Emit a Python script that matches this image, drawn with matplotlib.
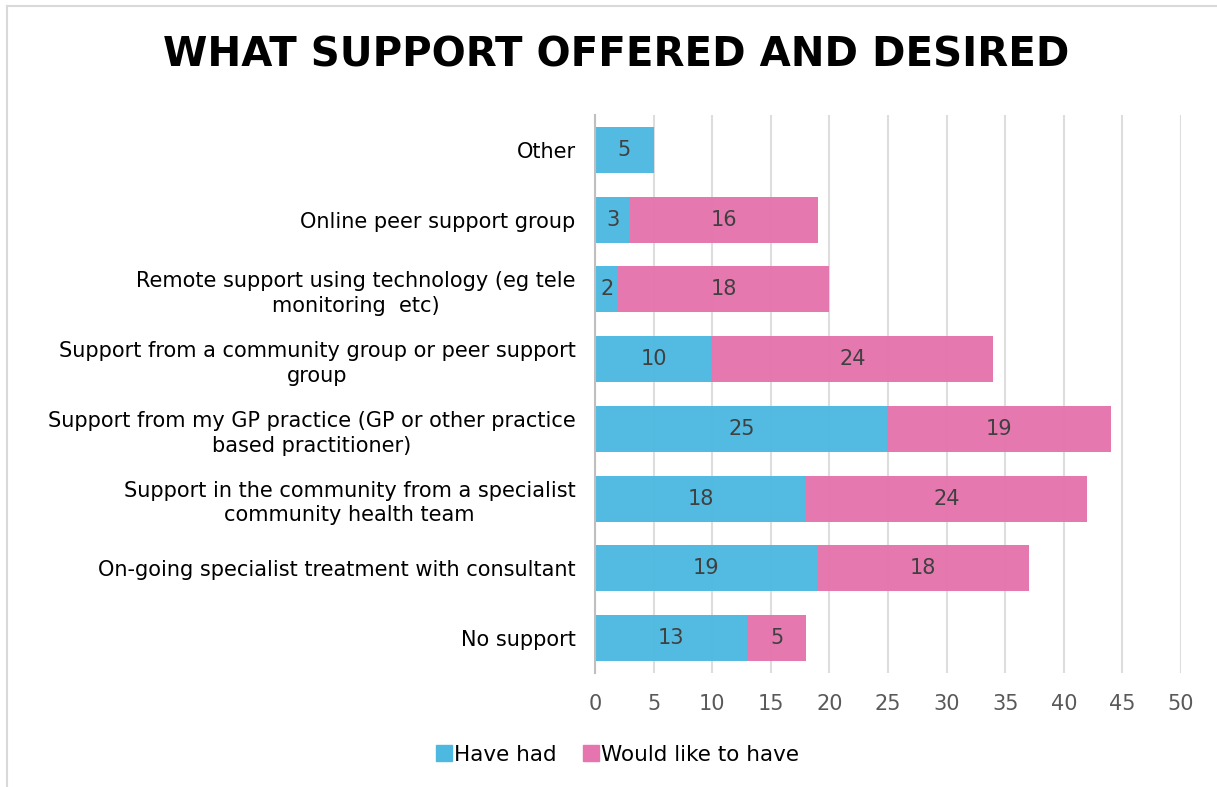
import matplotlib.pyplot as plt
from matplotlib.lines import Line2D
import numpy as np

categories = [
    "No support",
    "On-going specialist treatment with consultant",
    "Support in the community from a specialist\ncommunity health team",
    "Support from my GP practice (GP or other practice\nbased practitioner)",
    "Support from a community group or peer support\ngroup",
    "Remote support using technology (eg tele\nmonitoring  etc)",
    "Online peer support group",
    "Other",
]
have_had = [13, 19, 18, 25, 10, 2, 3, 5]
would_like = [5, 18, 24, 19, 24, 18, 16, 0]
series_names = ["Have had", "Would like to have"]
xticks = list(range(0, 55, 5))

blue = "#4DB8E0"
pink = "#E674AE"

fig = plt.figure(figsize=(12.17, 7.87), dpi=100)
ax = fig.add_axes([0.4889, 0.1449, 0.4815, 0.709])

y = np.arange(len(categories))
b1 = ax.barh(y, have_had, height=0.66, color=blue, alpha=0.97, zorder=2)
b2 = ax.barh(y, would_like, left=have_had, height=0.66, color=pink, alpha=0.97, zorder=2)

for bars, vals in ((b1, have_had), (b2, would_like)):
    for rect, v in zip(bars, vals):
        if v == 0:
            continue
        ax.text(rect.get_x() + rect.get_width() / 2, rect.get_y() + rect.get_height() / 2,
                str(v), ha="center", va="center", fontsize=15, color="#404040", zorder=3)

ax.set_xlim(0, 50)
ax.set_ylim(-0.5, len(categories) - 0.5)
ax.set_xticks(xticks)
ax.set_yticks(y)
ax.set_yticklabels(categories, fontsize=15, color="black", multialignment="center",
                   linespacing=1.3)
ax.tick_params(axis="x", length=0, labelsize=15, labelcolor="#595959", pad=15)
ax.tick_params(axis="y", length=0, pad=14)
ax.grid(axis="x", color="#DDDDDD", linewidth=1.5, zorder=0)
ax.set_axisbelow(True)
for s in ("top", "right", "bottom"):
    ax.spines[s].set_visible(False)
ax.spines["left"].set_color("#BFBFBF")
ax.spines["left"].set_linewidth(1.5)
ax.spines["left"].set_zorder(4)

fig.text(0.506, 0.930, "WHAT SUPPORT OFFERED AND DESIRED", ha="center", va="center",
         fontsize=29, fontweight="bold", color="black")

handles = [Line2D([], [], marker="s", linestyle="none", markersize=12, color=blue),
           Line2D([], [], marker="s", linestyle="none", markersize=12, color=pink)]
fig.legend(handles, series_names, loc="center", bbox_to_anchor=(0.507, 0.041), ncol=2,
           frameon=False, fontsize=15.5, handletextpad=0.05, columnspacing=1.2, handlelength=0.8)

# light frame on left and top edges
fig.add_artist(Line2D([0.0058, 0.0058], [0, 0.992], transform=fig.transFigure, color="#D9D9D9", linewidth=1.5))
fig.add_artist(Line2D([0.0058, 1], [0.992, 0.992], transform=fig.transFigure, color="#D9D9D9", linewidth=1.5))

fig.savefig("out.png", dpi=100)
